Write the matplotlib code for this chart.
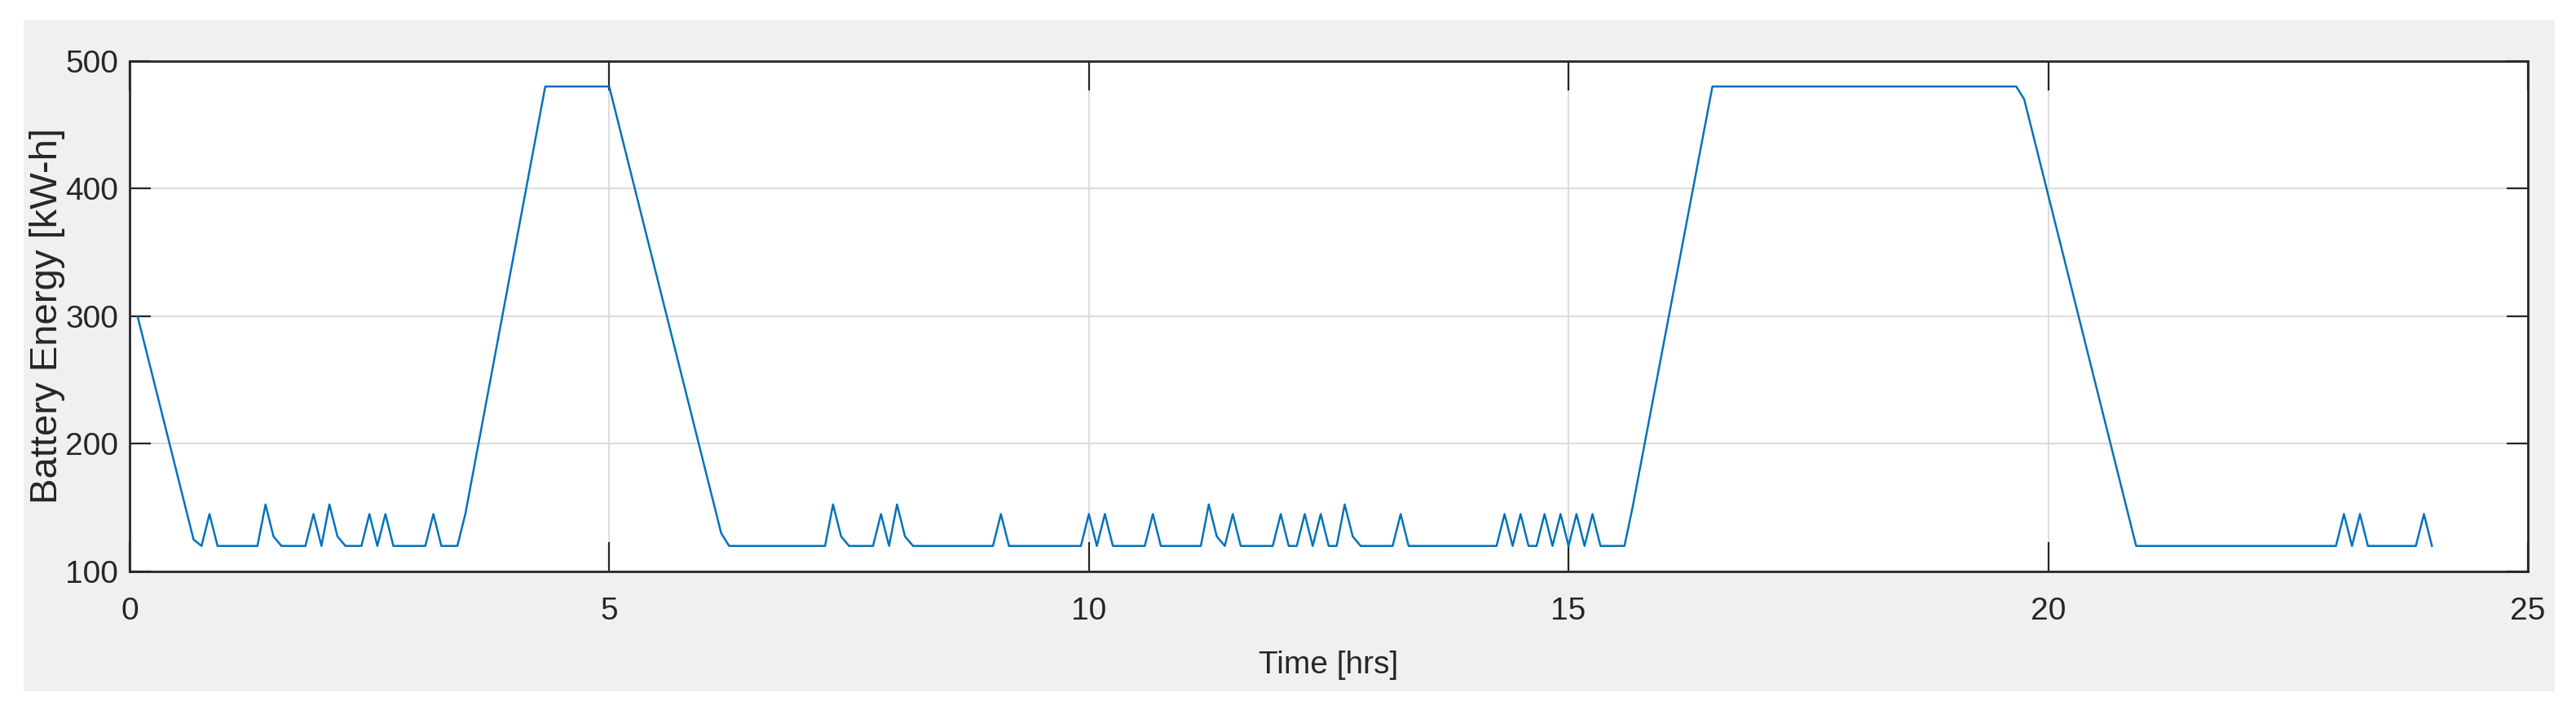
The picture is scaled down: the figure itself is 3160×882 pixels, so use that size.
import numpy as np
import matplotlib
matplotlib.use('Agg')
import matplotlib.pyplot as plt
from matplotlib.patches import Rectangle

plt.rcParams['font.family'] = ['Liberation Sans', 'DejaVu Sans']

# battery energy over the day (breakpoints, 5-min steps)
hours = [1/12, 0.667, 0.75, 0.833, 0.917, 1.333, 1.417, 1.5, 1.583, 1.833,
         1.917, 2.0, 2.083, 2.167, 2.25, 2.417, 2.5, 2.583, 2.667, 2.75,
         3.083, 3.167, 3.25, 3.417, 3.5, 4.333, 5.0, 6.167, 6.25, 7.25,
         7.333, 7.417, 7.5, 7.75, 7.833, 7.917, 8.0, 8.083, 8.167, 9.0,
         9.083, 9.167, 9.917, 10.0, 10.083, 10.167, 10.25, 10.583, 10.667, 10.75,
         11.167, 11.25, 11.333, 11.417, 11.5, 11.583, 11.917, 12.0, 12.083, 12.167,
         12.25, 12.333, 12.417, 12.5, 12.583, 12.667, 12.75, 12.833, 13.167, 13.25,
         13.333, 14.25, 14.333, 14.417, 14.5, 14.583, 14.667, 14.75, 14.833, 14.917,
         15.0, 15.083, 15.167, 15.25, 15.333, 15.583, 15.667, 16.5, 19.667, 19.75,
         20.917, 23.0, 23.083, 23.167, 23.25, 23.333, 23.833, 23.917, 24.0]
energy = [300, 125, 120, 145, 120, 120, 152.5, 127.5, 120, 120,
          145, 120, 152.5, 127.5, 120, 120, 145, 120, 145, 120,
          120, 145, 120, 120, 145, 480, 480, 130, 120, 120,
          152.5, 127.5, 120, 120, 145, 120, 152.5, 127.5, 120, 120,
          145, 120, 120, 145, 120, 145, 120, 120, 145, 120,
          120, 152.5, 127.5, 120, 145, 120, 120, 145, 120, 120,
          145, 120, 145, 120, 120, 152.5, 127.5, 120, 120, 145,
          120, 120, 145, 120, 145, 120, 120, 145, 120, 145,
          120, 145, 120, 145, 120, 120, 150, 480, 480, 470,
          120, 120, 145, 120, 145, 120, 120, 145, 120]

x_ticks = [0, 5, 10, 15, 20, 25]
y_ticks = [100, 200, 300, 400, 500]

fig = plt.figure(figsize=(31.6, 8.82), dpi=100, facecolor='white')

# grey matlab-like figure panel
fig.patches.append(Rectangle((0.0092, 0.0385), 0.9826, 0.933, transform=fig.transFigure,
                             facecolor='#f0f0f0', edgecolor='none', zorder=-10))

ax = fig.add_axes([0.0503, 0.2052, 0.931, 0.710])
ax.set_facecolor('white')
ax.plot(hours, energy, color='#0072bd', linewidth=1.8)

ax.set_xlim(0, 25)
ax.set_ylim(100, 500)
ax.set_xticks(x_ticks)
ax.set_yticks(y_ticks)
ax.grid(True, color='#dcdcdc', linewidth=1.5)
ax.set_axisbelow(True)

ax.tick_params(axis='x', direction='in', length=26, width=1.6, top=True, bottom=True,
               labelsize=28, pad=22, colors='#262626')
ax.tick_params(axis='y', direction='in', length=19, width=1.6, left=True, right=True,
               labelsize=28, pad=10, colors='#262626')
for s in ax.spines.values():
    s.set_color('#262626')
    s.set_linewidth(2)

ax.set_xlabel('Time [hrs]', fontsize=28, color='#262626', labelpad=22)
ax.set_ylabel('Battery Energy [kW-h]', fontsize=34, color='#262626', labelpad=0)

fig.savefig('out.png', dpi=100, facecolor='white')
